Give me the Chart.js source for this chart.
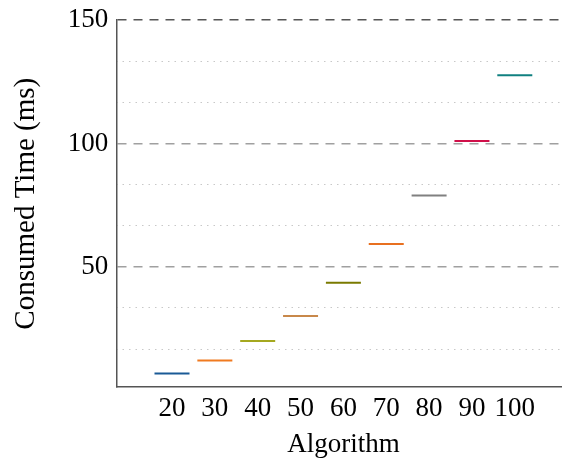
<!DOCTYPE html>
<html>
<head>
<meta charset="utf-8">
<script src="https://cdn.jsdelivr.net/npm/chart.js@4"></script>
<style>
  html, body { margin: 0; padding: 0; background: #fff; overflow: hidden; }
  #graph { display: block; margin-top: -4px; }
</style>
</head>
<body>
<canvas id="graph" width="590" height="468"></canvas>
<script>
// === DATA === //

const categories = [20, 30, 40, 50, 60, 70, 80, 90, 100]
const consumedTime = [6.8, 12.0, 19.9, 30.1, 43.5, 59.3, 78.9, 101.0, 127.7]
const markColors = ['#1a5a96', '#f07a20', '#a5a820', '#c8884a', '#7a7a00', '#e87020', '#808080', '#d0104a', '#108080']
const yMajorTicks = [50, 100, 150]
const yMinorTicks = [16.67, 33.33, 66.67, 83.33, 116.67, 133.33]

// === CHART === //

const serif = "'Liberation Serif', 'DejaVu Serif', serif"

const data = {
  datasets: [{
    label: 'Consumed Time',
    data: categories.map((c, i) => ({ x: c, y: consumedTime[i] })),
    pointStyle: 'line',
    pointRadius: 17.5,
    pointHoverRadius: 17.5,
    pointBorderWidth: 2,
    pointBorderColor: markColors,
    showLine: false
  }]
}

const config = {
  type: 'scatter',
  data,
  options: {
    responsive: false,
    animation: false,
    layout: { padding: { top: 0, right: 0, left: 9, bottom: 3 } },
    plugins: { legend: { display: false }, tooltip: { enabled: false } },
    scales: {
      x: {
        type: 'linear',
        min: 7,
        max: 113,
        afterBuildTicks: scale => { scale.ticks = categories.map(v => ({ value: v })) },
        grid: { display: false, drawTicks: false },
        border: { display: true, color: '#555', width: 1.5 },
        ticks: { color: '#000', font: { family: serif, size: 27 }, padding: 6, maxRotation: 0, autoSkip: false },
        title: { display: true, text: 'Algorithm', color: '#000', font: { family: serif, size: 27 }, padding: { top: -3, bottom: 0 } }
      },
      y: {
        min: 1.2,
        max: 150,
        afterBuildTicks: scale => { scale.ticks = yMajorTicks.map(v => ({ value: v })) },
        grid: {
          drawTicks: false,
          color: ctx => ctx.tick && ctx.tick.value === 150 ? '#555' : '#a0a0a0',
          lineWidth: 1.5
        },
        border: { display: true, color: '#555', width: 1.5, dash: [9, 7] },
        ticks: { color: '#000', font: { family: serif, size: 27 }, padding: 8 },
        title: { display: true, text: 'Consumed Time (ms)', color: '#000', font: { family: serif, size: 29 }, padding: { top: 0, bottom: 16 } }
      },
      yMinor: {
        position: 'left',
        min: 1.2,
        max: 150,
        afterBuildTicks: scale => { scale.ticks = yMinorTicks.map(v => ({ value: v })) },
        grid: { drawTicks: false, color: '#c8c8c8', lineWidth: 1 },
        border: { display: false, dash: [1.5, 5] },
        ticks: { display: false, padding: 0 }
      }
    }
  }
}

new Chart(document.getElementById('graph'), config)
</script>
</body>
</html>
